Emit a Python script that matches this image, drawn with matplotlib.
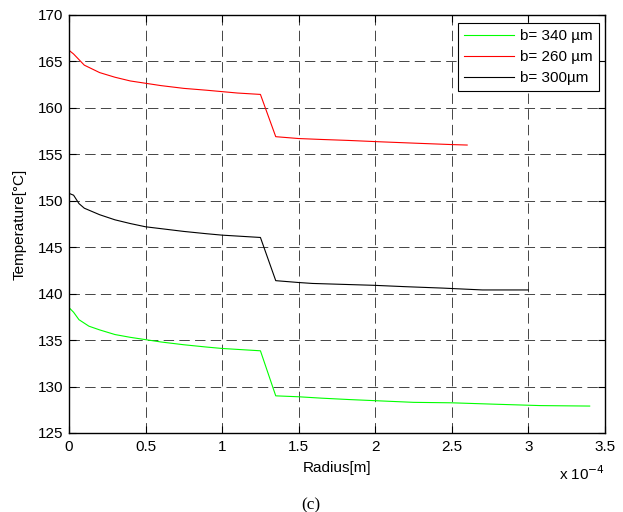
#!/usr/bin/env python3
"""Radial temperature profiles for three thicknesses b."""
import matplotlib

matplotlib.use("Agg")
import matplotlib.pyplot as plt

plt.rcParams.update({
    "font.family": ["Liberation Sans", "DejaVu Sans"],
    "lines.scale_dashes": False,
})

# radius in units of 1e-4 m, temperature in degC
r_340 = [0, 0.03, 0.065, 0.13, 0.2, 0.3, 0.4, 0.5, 0.6, 0.75, 0.9, 1.0, 1.1, 1.25,
         1.35, 1.5, 1.65, 1.83, 2.04, 2.25, 2.5, 2.78, 3.08, 3.4]
t_340 = [138.5, 138.0, 137.2, 136.5, 136.1, 135.6, 135.3, 135.05, 134.8, 134.5, 134.25,
         134.1, 134.0, 133.85, 129.0, 128.9, 128.75, 128.6, 128.45, 128.3, 128.25,
         128.1, 127.95, 127.9]

r_260 = [0, 0.03, 0.065, 0.1, 0.15, 0.2, 0.3, 0.4, 0.5, 0.6, 0.75, 0.9, 1.0, 1.1, 1.25,
         1.35, 1.5, 1.65, 1.82, 2.03, 2.26, 2.5, 2.6]
t_260 = [166.2, 165.8, 165.2, 164.6, 164.2, 163.8, 163.3, 162.9, 162.65, 162.4, 162.1,
         161.9, 161.75, 161.6, 161.45, 156.9, 156.7, 156.6, 156.5, 156.35, 156.2,
         156.05, 156.0]

r_300 = [0, 0.03, 0.065, 0.1, 0.15, 0.2, 0.3, 0.4, 0.5, 0.6, 0.75, 0.9, 1.0, 1.1, 1.25,
         1.35, 1.5, 1.59, 1.79, 1.99, 2.2, 2.44, 2.7, 3.0]
t_300 = [150.8, 150.6, 149.7, 149.2, 148.85, 148.5, 147.95, 147.55, 147.2, 147.0, 146.7,
         146.45, 146.3, 146.2, 146.05, 141.4, 141.2, 141.1, 141.0, 140.9, 140.75,
         140.6, 140.4, 140.4]

x_ticks = [0, 0.5, 1, 1.5, 2, 2.5, 3, 3.5]
x_tick_labels = ["0", "0.5", "1", "1.5", "2", "2.5", "3", "3.5"]
y_ticks = [125, 130, 135, 140, 145, 150, 155, 160, 165, 170]

FS = 11

fig = plt.figure(figsize=(6.23, 5.12), dpi=100)
ax = fig.add_axes([69 / 623, 1 - 433 / 512, 536 / 623, 418 / 512])

ax.plot(r_340, t_340, color="#00ff00", lw=0.8, label="b= 340 µm")
ax.plot(r_260, t_260, color="#ff0000", lw=0.8, label="b= 260 µm")
ax.plot(r_300, t_300, color="black", lw=0.8, label="b= 300µm")

ax.set_xlim(0, 3.5)
ax.set_ylim(125, 170)
ax.set_xticks(x_ticks)
ax.set_xticklabels(x_tick_labels)
ax.set_yticks(y_ticks)
ax.tick_params(direction="in", length=5, width=0.8, labelsize=FS,
               top=True, right=True)
ax.tick_params(axis="x", pad=5)
ax.tick_params(axis="y", pad=4)
for s in ax.spines.values():
    s.set_linewidth(1.0)

ax.grid(True, color="black", lw=0.6, linestyle=(0, (7.5, 3.8)), alpha=0.85)

ax.set_xlabel("Radius[m]", fontsize=FS, labelpad=5)
ax.set_ylabel("Temperature[°C]", fontsize=FS, labelpad=8)
fig.text(605 / 623, 1 - 474 / 512, "x 10$^{-4}$", ha="right", va="center", fontsize=FS)
fig.text(311 / 623, 1 - 505 / 512, "(c)", ha="center", va="center", fontsize=12.5,
         family=["Liberation Serif", "DejaVu Serif"])

leg = ax.legend(loc="upper right", bbox_to_anchor=(0.989, 0.980), fontsize=FS,
                fancybox=False, framealpha=1, edgecolor="black", handlelength=3.3,
                handletextpad=0.4, labelspacing=0.45, borderaxespad=0)
leg.get_frame().set_linewidth(0.8)

fig.savefig("out.png", dpi=100)
